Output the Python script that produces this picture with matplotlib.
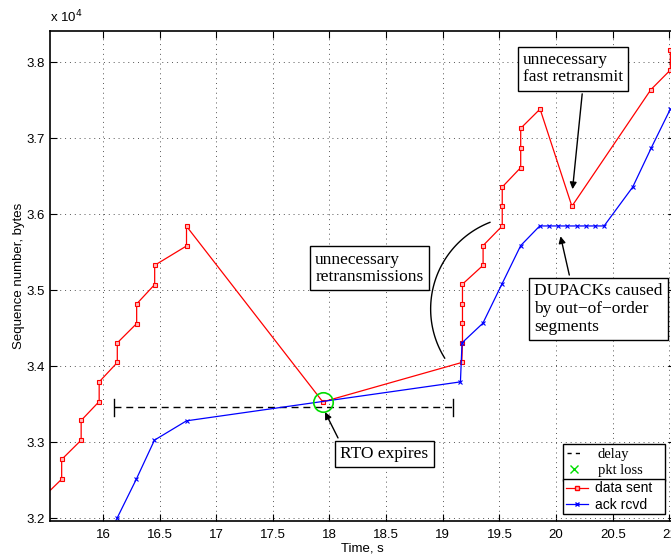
import numpy as np
import matplotlib

matplotlib.use("Agg")
import matplotlib.pyplot as plt
from matplotlib.lines import Line2D

# data sent (time s, sequence number bytes)
sent_t = [15.46, 15.636, 15.636, 15.808, 15.808, 15.967, 15.967, 16.127, 16.127,
          16.298, 16.298, 16.457, 16.457, 16.738, 16.738, 17.941, 19.168, 19.174,
          19.174, 19.174, 19.174, 19.356, 19.356, 19.525, 19.525, 19.525, 19.688,
          19.688, 19.688, 19.859, 20.14, 20.837, 21.009, 21.009]
sent_seq = [32260, 32516, 32775, 33029, 33288, 33537, 33795, 34050, 34308,
            34562, 34820, 35075, 35328, 35582, 35841, 33532, 34050, 34308,
            34566, 34820, 35080, 35328, 35587, 35845, 36104, 36357, 36612,
            36870, 37129, 37382, 36104, 37637, 37895, 38154]

# ack rcvd
ack_t = [16.124, 16.295, 16.455, 16.738, 19.156, 19.17, 19.354, 19.522, 19.688,
         19.856, 19.936, 20.016, 20.098, 20.187, 20.261, 20.341, 20.424, 20.677,
         20.840, 21.009]
ack_seq = [32000, 32516, 33029, 33283, 33795, 34308, 34566, 35080, 35587,
           35845, 35845, 35845, 35845, 35845, 35845, 35845, 35845, 36357,
           36870, 37382]

# delay bar and packet loss
delay_t = [16.1, 19.094]
delay_seq = [33463, 33463]
loss_t = [17.941]
loss_seq = [33532]

SERIF = ["Liberation Serif", "DejaVu Serif"]
SANS = ["Liberation Sans", "DejaVu Sans"]

plt.rcParams.update({
    "font.family": SANS,
    "font.size": 9.5,
    "xtick.direction": "in",
    "ytick.direction": "in",
    "xtick.top": True,
    "ytick.right": True,
    "axes.linewidth": 1.2,
})

fig = plt.figure(figsize=(6.71, 5.54), dpi=100)
ax = fig.add_axes([50 / 671, 33.3 / 554, 625 / 671, 489.7 / 554])

ax.grid(True, linestyle=(0, (1, 4)), color="#555555", linewidth=0.7)
ax.set_axisbelow(True)

ax.plot(delay_t, delay_seq, color="black", linestyle=(0, (5, 3.5)), linewidth=1.0)
for t in delay_t:
    ax.plot([t, t], [33463 - 110, 33463 + 110], color="black", linewidth=1.0)

ax.plot(sent_t, sent_seq, color="red", linewidth=0.9, marker="s", markersize=3.5,
        markerfacecolor="#ffbbbb", markeredgewidth=0.8)
ax.plot(ack_t, ack_seq, color="blue", linewidth=0.9, marker="x", markersize=3.5,
        markeredgewidth=0.8)
ax.plot(loss_t, loss_seq, linestyle="none", marker="o", markersize=14,
        markerfacecolor="none", markeredgecolor="#00dd00", markeredgewidth=1.2)

ax.set_xlim(15.533, 21.05)
ax.set_ylim(31970, 38408)
ax.set_xticks([16, 16.5, 17, 17.5, 18, 18.5, 19, 19.5, 20, 20.5, 21])
ax.set_xticklabels(["16", "16.5", "17", "17.5", "18", "18.5", "19", "19.5", "20", "20.5", "21"])
ax.set_yticks([32000, 33000, 34000, 35000, 36000, 37000, 38000])
ax.set_yticklabels(["3.2", "3.3", "3.4", "3.5", "3.6", "3.7", "3.8"])
ax.tick_params(length=5, width=0.8)
ax.tick_params(axis="x", pad=6)
ax.tick_params(axis="y", pad=4)
ax.text(0.0, 1.012, r"x 10$^4$", transform=ax.transAxes, fontsize=9.5, va="bottom")
ax.set_xlabel("Time, s", fontsize=9.5, labelpad=1)
ax.set_ylabel("Sequence number, bytes", fontsize=9.5, labelpad=1)

box = dict(boxstyle="square,pad=0.3", facecolor="white", edgecolor="black", linewidth=1.0)
arrow = dict(arrowstyle="-|>", color="black", linewidth=1.0, mutation_scale=10)

ax.text(18.352, 35289, "unnecessary\nretransmissions", family=SERIF, fontsize=12.5,
        ha="center", va="center", bbox=box, linespacing=1.12, multialignment="left")
ax.annotate("RTO expires", xy=(17.95, 33430), xytext=(18.485, 32845), family=SERIF,
            fontsize=12.5, ha="center", va="center", bbox=box,
            arrowprops=dict(arrow, relpos=(0.02, 1.0)))
ax.annotate("unnecessary\nfast retransmit", xy=(20.143, 36292), xytext=(20.150, 37913),
            family=SERIF, fontsize=12.5, ha="center", va="center", bbox=box,
            linespacing=1.12, multialignment="left",
            arrowprops=dict(arrow, relpos=(0.6, 0.0)))
ax.annotate("DUPACKs caused\nby out\u2212of\u2212order\nsegments", xy=(20.034, 35745),
            xytext=(19.805, 34750), family=SERIF, fontsize=12.5, ha="left", va="center",
            bbox=box, linespacing=1.15, multialignment="left",
            arrowprops=dict(arrow, relpos=(0.29, 1.0)))

# arc around the retransmissions
theta = np.radians(np.linspace(111.5, 211.8, 60))
ax.plot(19.719 + 0.826 * np.cos(theta), 34753 + 1224.5 * np.sin(theta),
        color="black", linewidth=1.0)

x0, w = (563.3 - 50) / 625, (665 - 563.3) / 625
h1 = [Line2D([], [], color="black", linestyle=(0, (3, 3)), linewidth=1.0),
      Line2D([], [], color="#00dd00", linestyle="none", marker="x", markersize=6)]
leg1 = ax.legend(h1, ["delay", "pkt loss"], loc="lower left", mode="expand",
                 bbox_to_anchor=(x0, (520.7 - 480.7) / 489.7, w, 0.05),
                 prop={"family": SERIF, "size": 10.5}, frameon=True, fancybox=False,
                 edgecolor="black", framealpha=1, handlelength=1.0, borderpad=0.25,
                 labelspacing=0.2, borderaxespad=0, handletextpad=1.1)
leg1.get_frame().set_linewidth(1.0)
ax.add_artist(leg1)
h2 = [Line2D([], [], color="red", marker="s", markersize=3.5, markerfacecolor="#ffbbbb", linewidth=0.9),
      Line2D([], [], color="blue", marker="x", markersize=3.5, linewidth=0.9)]
leg2 = ax.legend(h2, ["data sent", "ack rcvd"], loc="lower left", mode="expand",
                 bbox_to_anchor=(x0, (520.7 - 514.3) / 489.7, w, 0.05),
                 prop={"family": SANS, "size": 10}, frameon=True, fancybox=False,
                 edgecolor="black", framealpha=1, handlelength=1.6, borderpad=0.2,
                 labelspacing=0.15, borderaxespad=0, handletextpad=0.5)
leg2.get_frame().set_linewidth(1.0)

fig.savefig("out.png", dpi=100)
